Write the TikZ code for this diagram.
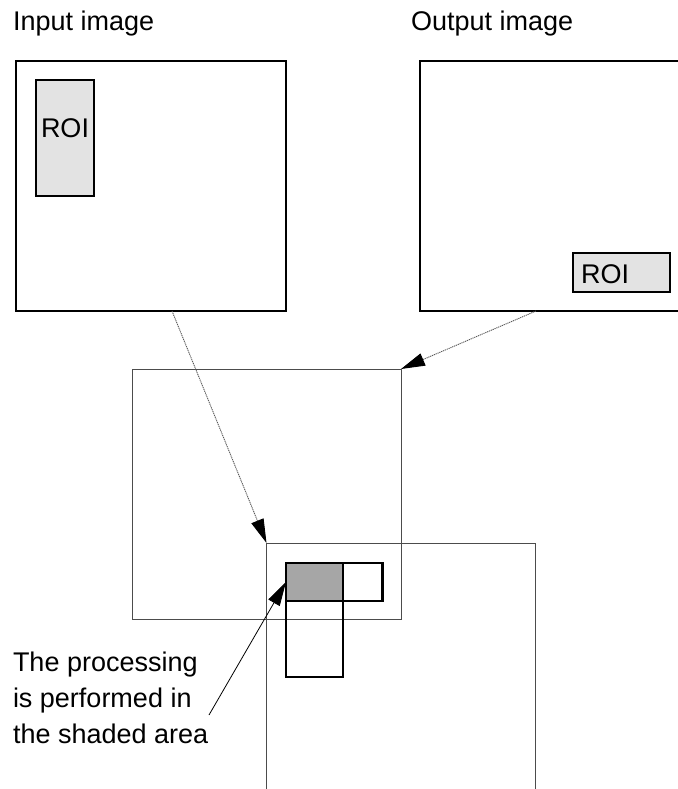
\documentclass[tikz,border=0pt]{standalone}
\usepackage{fontspec}
\setmainfont{Liberation Sans}
\usetikzlibrary{arrows.meta}
\definecolor{roigray}{HTML}{E3E3E3}
\definecolor{shadegray}{HTML}{A6A6A6}
\begin{document}
\begin{tikzpicture}[x=1pt,y=-1pt,
  every node/.style={outer sep=0pt, inner sep=0pt},
  lbl/.style={font=\fontsize{27}{36}\selectfont},
  imgbox/.style={draw=black, line width=2pt, rectangle},
  winbox/.style={draw=black!70, line width=1pt, rectangle},
  roibox/.style={draw=black, line width=1.5pt, fill=roigray, rectangle},
  cellbox/.style={draw=black, line width=2.5pt, rectangle},
  tip/.style={-{Triangle[length=24pt,width=13pt,color=black,fill=black]}},
  dotarrow/.style={tip, draw=black!65, line width=0.9pt, dash pattern=on 1.2pt off 0.8pt},
  solidarrow/.style={tip, draw=black, line width=0.8pt}]
\useasboundingbox (0,0) rectangle (677,789);

% titles
\node[lbl, anchor=base west] (tin) at (13,31) {Input image};
\node[lbl, anchor=base west] (tout) at (411,31) {Output image};

% input image
\node[imgbox, minimum width=270pt, minimum height=250pt] (inbox) at (151,186) {};
\node[roibox, minimum width=58pt, minimum height=116pt] (inroi) at (65,138) {};
\node[lbl, anchor=base] (inroit) at (65,138) {ROI};

% output image (right edge runs off the page)
\node[imgbox, minimum width=270pt, minimum height=250pt] (outbox) at (555,186) {};
\node[roibox, minimum width=97pt, minimum height=39pt] (outroi) at (621.5,272.5) {};
\node[lbl, anchor=base west] (outroit) at (581,283) {ROI};

% middle window
\node[winbox, minimum width=269pt, minimum height=250pt] (mid) at (266.5,494) {};

% bottom window, open at the bottom
\node[minimum width=269pt, minimum height=257pt] (bot) at (401,671.5) {};
\draw[black!70, line width=1pt] (bot.south west) -- (bot.north west) -- (bot.north east) -- (bot.south east);

% processing cells
\node[cellbox, fill=shadegray, minimum width=57pt, minimum height=38pt] (shade) at (314.5,582) {};
\node[cellbox, minimum width=39.5pt, minimum height=38pt, anchor=west] (rcell) at (shade.east) {};
\node[cellbox, minimum width=57pt, minimum height=76pt, anchor=north] (dcell) at (shade.south) {};

% caption
\node[lbl, anchor=base west] (cap1) at (13,671) {The processing};
\node[lbl, anchor=base west] (cap2) at (13,707) {is performed in};
\node[lbl, anchor=base west] (cap3) at (13,743) {the shaded area};

% connectors
\coordinate (a1) at (172,311);
\coordinate (a2) at (536,311);
\coordinate (a3) at (209,715);
\draw[dotarrow] (a1) -- (bot.north west);
\draw[dotarrow] (a2) -- (mid.north east);
\draw[solidarrow] (a3) -- (shade.west);
\end{tikzpicture}
\end{document}
